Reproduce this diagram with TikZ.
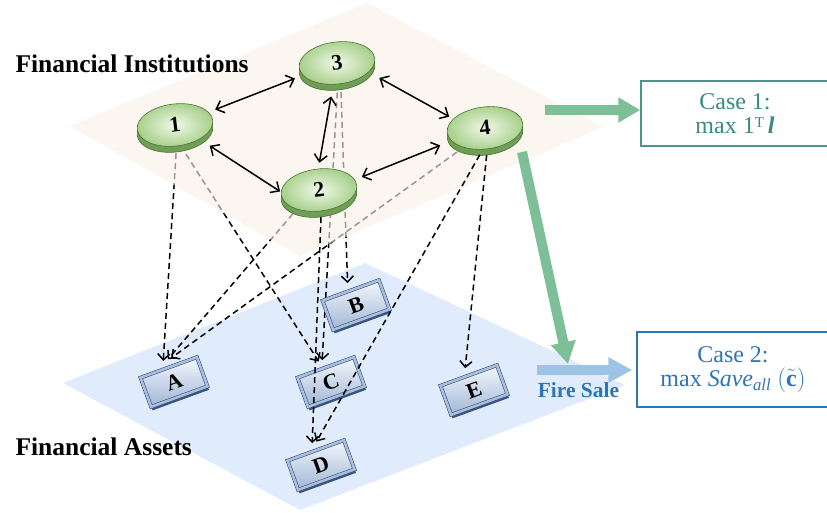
\documentclass[tikz,border=0pt]{standalone}
\usepackage{fontspec}
\setmainfont{Liberation Serif}
\usetikzlibrary{arrows.meta,shapes.geometric,shadows,calc}
\definecolor{orangeplane}{RGB}{249,241,230}
\definecolor{blueplane}{RGB}{224,236,251}
\definecolor{coinlight}{RGB}{240,248,232}
\definecolor{coinmid}{RGB}{165,206,135}
\definecolor{coinrim}{RGB}{112,158,86}
\definecolor{coindark}{RGB}{72,112,52}
\definecolor{keylight}{RGB}{244,248,253}
\definecolor{keymid}{RGB}{160,182,212}
\definecolor{keyedge}{RGB}{170,190,220}
\definecolor{keydark}{RGB}{58,84,128}
\definecolor{greenarrow}{RGB}{125,192,152}
\definecolor{bluearrow}{RGB}{157,195,230}
\definecolor{tealtext}{RGB}{58,138,128}
\definecolor{tealbox}{RGB}{74,150,140}
\definecolor{bluetext}{RGB}{46,117,182}
\pgfdeclarelayer{bg}
\pgfdeclarelayer{under}
\pgfdeclarelayer{veil}
\pgfsetlayers{bg,under,veil,main}
\begin{document}
\begin{tikzpicture}[x=1pt,y=-1pt,
  coin/.style={ellipse, minimum width=76pt, minimum height=42pt, inner sep=0pt, rotate=7,
    draw=coindark, line width=0.6pt, inner color=coinlight, outer color=coinmid,
    general shadow={fill=coinrim, draw=coindark, shadow yshift=-6pt},
    font=\bfseries\fontsize{22}{22}\selectfont},
  key/.style={rectangle, minimum width=60pt, minimum height=31pt, inner sep=0pt, rotate=20,
    outer sep=8pt, draw=keydark, line width=0.6pt, double=keyedge, double distance=2.6pt,
    top color=keylight, bottom color=keymid,
    general shadow={fill=keydark, shadow xshift=1.5pt, shadow yshift=-3.5pt},
    font=\bfseries\fontsize{22}{22}\selectfont},
  biarrow/.style={line width=1.5pt, {Straight Barb[length=7pt,width=13pt]}-{Straight Barb[length=7pt,width=13pt]}},
  dasharrow/.style={line width=1.5pt, dash pattern=on 6pt off 4pt, -{Straight Barb[length=6pt,width=12pt]}},
  greenarr/.style={draw=greenarrow, line width=10pt, -{Triangle[length=22pt,width=24pt]}},
  bluearr/.style={draw=bluearrow, line width=10pt, -{Triangle[length=24pt,width=24pt]}},
  title/.style={anchor=base west, font=\bfseries\fontsize{25.5}{30}\selectfont},
  casebox/.style={draw, line width=1.5pt, align=center, inner sep=0pt, font=\fontsize{24}{24.5}\selectfont}
]
\useasboundingbox (0,0) rectangle (827,513);
\begin{pgfonlayer}{bg}
\fill[white] (0,0) rectangle (827,513);
\fill[blueplane] (63,383) -- (365,263) -- (625,385) -- (300,510) -- cycle;
\end{pgfonlayer}
\begin{pgfonlayer}{veil}
\fill[orangeplane, fill opacity=0.62] (70,126) -- (367,3) -- (603,127) -- (300,256) -- cycle;
\end{pgfonlayer}

% institutions
\node[coin] (n1) at (175,125) {1};
\node[coin] (n3) at (337,63) {3};
\node[coin] (n2) at (319,190) {2};
\node[coin] (n4) at (485,128) {4};

% assets
\node[key] (A) at (174,382) {A};
\node[key] (B) at (356,305) {B};
\node[key] (C) at (331,382) {C};
\node[key] (D) at (321,465) {D};
\node[key] (E) at (474,390) {E};

% titles
\node[title] (fi) at (12,73) {Financial Institutions};
\node[title] (fa) at (12,455) {Financial Assets};

% interbank links
\draw[biarrow, shorten <=7pt, shorten >=8.5pt] (n1.14) -- (n3.193);
\draw[biarrow, shorten <=12pt, shorten >=1pt] (n1.-37) -- (n2.176);
\draw[biarrow, shorten <=12pt, shorten >=6pt] (n3.-107) -- (n2.85);
\draw[biarrow, shorten <=12pt, shorten >=4.5pt] (n3.-23) -- (n4.157);
\draw[biarrow, shorten <=12pt, shorten >=7.5pt] (n4.194) -- (n2.9);

% holdings behind the top plane
\begin{pgfonlayer}{under}
\draw[dasharrow, shorten <=7pt] (n1.-93) -- (A.97);
\draw[dasharrow, shorten <=10pt] (n1.-82) -- (C.101);
\draw[dasharrow, shorten <=6pt] (n2.-146) -- (A.85);
\draw[dasharrow, shorten <=8pt] (n3.-87) -- (B.91);
\draw[dasharrow, shorten <=8pt] (n3.-95) -- (C.92);
\draw[dasharrow, shorten <=8pt] (n4.-145) -- (A.77);
\end{pgfonlayer}
% holdings in front
\draw[dasharrow, shorten <=6pt] (n2.-91) -- (D.92);
\draw[dasharrow, shorten <=6pt] (n4.-103) -- (D.81);
\draw[dasharrow, shorten <=6pt] (n4.-91) -- (E.92);

% cases
\node[casebox, draw=tealbox, text=tealtext, minimum width=188pt, minimum height=65pt] (case1) at (735,113.5)
  {Case 1:\\max 1\raisebox{6pt}{\fontsize{15}{15}\selectfont T}\,\textbf{\textit{l}}};
\node[casebox, draw=bluetext, text=bluetext, minimum width=192pt, minimum height=75pt] (case2) at (733,369.5)
  {Case 2:\\max $\mathit{Save}_{\mathit{all}}$ $(\tilde{\mathbf{c}})$};

\coordinate (g1s) at (545,110);
\draw[greenarr] (g1s) -- (g1s -| case1.west);
\coordinate (fs) at (537,370);
\draw[bluearr, shorten >=4pt] (fs) -- (fs -| case2.west);
\coordinate (g2s) at (522,152);
\coordinate (g2e) at (568,364);
\draw[greenarr] (g2s) -- (g2e);
\node[anchor=base, text=bluetext, font=\bfseries\fontsize{21.5}{21.5}\selectfont] (fstext) at (578.5,397) {Fire Sale};
\end{tikzpicture}
\end{document}
